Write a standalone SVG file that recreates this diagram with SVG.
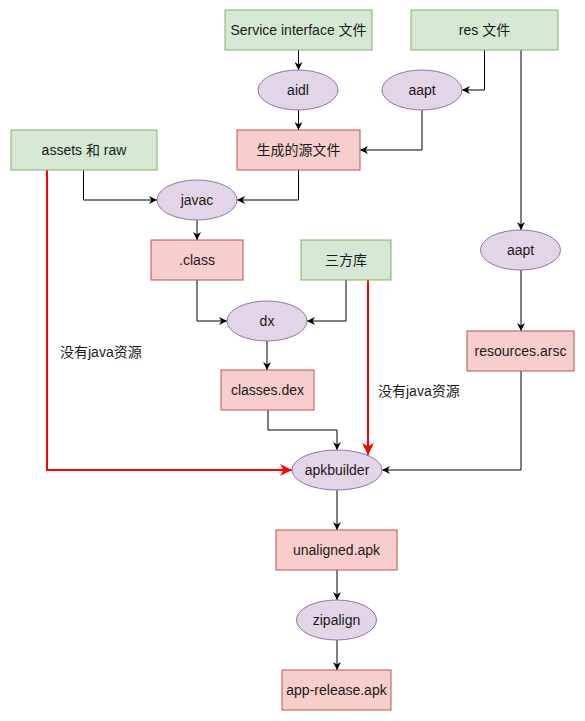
<svg xmlns="http://www.w3.org/2000/svg" width="585" height="721" viewBox="0 0 585 721">
<style>
text{font-family:"Liberation Sans","Noto Sans CJK SC",sans-serif;font-size:14px;fill:#1a1a1a;text-anchor:middle;dominant-baseline:central}
.g{fill:#d5e8d4;stroke:#82b366}
.r{fill:#f8cecc;stroke:#b85450}
.p{fill:#e1d5e7;stroke:#9673a6}
.c{fill:none;stroke:#000;stroke-width:1;marker-end:url(#a)}
.cr{fill:none;stroke:#ff0000;stroke-width:2;marker-end:url(#ar)}
.lbl{text-anchor:start}
</style>
<defs>
<marker id="a" viewBox="0 0 10 10" refX="10" refY="5" markerWidth="8" markerHeight="8" orient="auto" markerUnits="userSpaceOnUse">
<path d="M0,0 L10,5 L0,10 L3,5 z" fill="#000"/>
</marker>
<marker id="ar" viewBox="0 0 10 10" refX="10" refY="5" markerWidth="12" markerHeight="12" orient="auto" markerUnits="userSpaceOnUse">
<path d="M0,0 L10,5 L0,10 L3,5 z" fill="#ff0000"/>
</marker>
</defs>
<g id="connectors">
<path class="c" d="M298.5,50 V70"/>
<path class="c" d="M298.5,110 V130"/>
<path class="c" d="M484.5,50 V90 H462"/>
<path class="c" d="M422,110 V150 H360"/>
<path class="c" d="M521,50 V230"/>
<path class="c" d="M83.5,170 V200 H157"/>
<path class="c" d="M298.5,170 V200 H237"/>
<path class="c" d="M197,220 V240"/>
<path class="c" d="M197,280 V321 H227"/>
<path class="c" d="M346,280 V321 H307"/>
<path class="c" d="M267,341 V370"/>
<path class="c" d="M268,410 V430 H337 V450"/>
<path class="cr" d="M368,280 V455"/>
<path class="cr" d="M47,170 V470 H292"/>
<path class="c" d="M521,270 V331"/>
<path class="c" d="M521,371 V470 H382"/>
<path class="c" d="M337,490 V530"/>
<path class="c" d="M337,570 V600"/>
<path class="c" d="M337,640 V670"/>
</g>
<g id="service"><rect class="g" x="225" y="10" width="147" height="40"/><text x="298.5" y="30">Service interface 文件</text></g>
<g id="res"><rect class="g" x="411" y="10" width="147" height="40"/><text x="484.5" y="30">res 文件</text></g>
<g id="aidl"><ellipse class="p" cx="298" cy="90" rx="40" ry="20"/><text x="298" y="90">aidl</text></g>
<g id="aapt1"><ellipse class="p" cx="422" cy="90" rx="40" ry="20"/><text x="422" y="90">aapt</text></g>
<g id="gen"><rect class="r" x="237" y="130" width="123" height="40"/><text x="298.5" y="150">生成的源文件</text></g>
<g id="assets"><rect class="g" x="11" y="130" width="146" height="40"/><text x="84" y="150">assets 和 raw</text></g>
<g id="javac"><ellipse class="p" cx="197" cy="200" rx="40" ry="20"/><text x="197" y="200">javac</text></g>
<g id="class"><rect class="r" x="151" y="240" width="92" height="40"/><text x="197" y="260">.class</text></g>
<g id="lib"><rect class="g" x="301" y="240" width="90" height="40"/><text x="346" y="260">三方库</text></g>
<g id="aapt2"><ellipse class="p" cx="520.5" cy="250" rx="40" ry="20"/><text x="520.5" y="250">aapt</text></g>
<g id="dx"><ellipse class="p" cx="267" cy="321" rx="40" ry="20"/><text x="267" y="321">dx</text></g>
<g id="arsc"><rect class="r" x="467" y="331" width="107" height="40"/><text x="520.5" y="351">resources.arsc</text></g>
<g id="dex"><rect class="r" x="221" y="370" width="93" height="40"/><text x="267.5" y="390">classes.dex</text></g>
<g id="apkbuilder"><ellipse class="p" cx="337" cy="470" rx="45" ry="20"/><text x="337" y="470">apkbuilder</text></g>
<g id="unaligned"><rect class="r" x="276" y="530" width="121" height="40"/><text x="336.5" y="550">unaligned.apk</text></g>
<g id="zipalign"><ellipse class="p" cx="336.5" cy="620" rx="40" ry="20"/><text x="336.5" y="620">zipalign</text></g>
<g id="release"><rect class="r" x="282" y="670" width="109" height="40"/><text x="336.5" y="690">app-release.apk</text></g>
<g id="labels">
<text class="lbl" x="60" y="352">没有java资源</text>
<text class="lbl" x="378" y="391">没有java资源</text>
</g>
</svg>
